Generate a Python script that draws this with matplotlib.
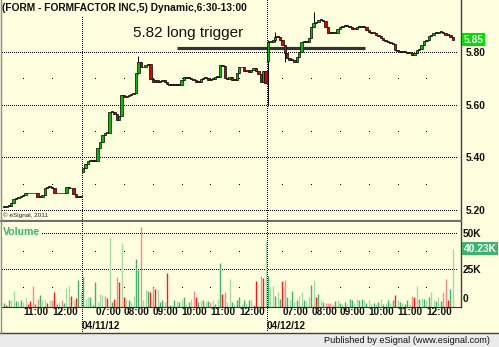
import matplotlib
matplotlib.use("Agg")
import matplotlib.pyplot as plt
import matplotlib.transforms as mtransforms
from matplotlib.lines import Line2D
from matplotlib.patches import Rectangle
import numpy as np

plt.rcParams['font.family'] = ['Liberation Sans', 'DejaVu Sans']

# ---------------- data ----------------
title = "(FORM - FORMFACTOR INC,5) Dynamic,6:30-13:00"

closes = [
    # 04/10/12 (partial)
    5.215, 5.22, 5.22, 5.23, 5.245, 5.25, 5.255, 5.258, 5.262, 5.267,
    5.267, 5.268, 5.267, 5.267, 5.255, 5.253, 5.26, 5.286, 5.29, 5.29,
    5.288, 5.267, 5.267, 5.267, 5.267, 5.268, 5.29, 5.288, 5.286, 5.263,
    5.255, 5.255, 5.253,
    # 04/11/12
    5.365, 5.38, 5.39, 5.395, 5.39, 5.39, 5.44, 5.463, 5.49, 5.496,
    5.497, 5.576, 5.575, 5.568, 5.546, 5.56, 5.64, 5.634, 5.635, 5.64,
    5.645, 5.648, 5.724, 5.765, 5.745, 5.745, 5.755, 5.76, 5.70, 5.69,
    5.697, 5.69, 5.694, 5.697, 5.69, 5.684, 5.678, 5.678, 5.678, 5.678,
    5.678, 5.697, 5.708, 5.705, 5.705, 5.70, 5.697, 5.69, 5.69, 5.70,
    5.705, 5.705, 5.697, 5.70, 5.70, 5.708, 5.708, 5.754, 5.75, 5.705,
    5.70, 5.708, 5.697, 5.697, 5.725, 5.748, 5.745, 5.73, 5.735, 5.727,
    5.735, 5.742, 5.73, 5.72, 5.69, 5.73, 5.685,
    # 04/12/12
    5.843, 5.842, 5.848, 5.862, 5.862, 5.848, 5.83, 5.799, 5.78, 5.773,
    5.773, 5.767, 5.786, 5.805, 5.843, 5.843, 5.843, 5.856, 5.90, 5.913,
    5.918, 5.925, 5.925, 5.922, 5.90, 5.875, 5.875, 5.875, 5.877, 5.89,
    5.90, 5.902, 5.902, 5.902, 5.90, 5.89, 5.892, 5.90, 5.90, 5.902,
    5.90, 5.887, 5.88, 5.877, 5.875, 5.868, 5.864, 5.855, 5.848, 5.845,
    5.842, 5.838, 5.835, 5.81, 5.808, 5.805, 5.805, 5.805, 5.801, 5.799,
    5.792, 5.799, 5.811, 5.814, 5.83, 5.845, 5.848, 5.864, 5.87, 5.875,
    5.875, 5.879, 5.879, 5.877, 5.868, 5.868, 5.862, 5.851,
]

# bars whose open gaps away from the previous close
gap_idx = [33, 109, 110]
gap_open = [5.35, 5.73, 5.77]

# bars with visible wicks
wick_idx = [49, 56, 110, 113, 117, 129]
wick_low = [5.585, 5.72, 5.60, 5.84, 5.765, 5.90]
wick_high = [5.64, 5.789, 5.85, 5.881, 5.83, 5.957]

volume_k = [
    2.3, 0.7, 4.6, 4.2, 11.1, 3.7, 3.7, 4.6, 3.0, 5.8,
    1.9, 3.7, 13.9, 1.9, 5.3, 8.3, 4.6, 4.6, 2.3, 4.6,
    4.2, 10.0, 1.9, 3.0, 4.6, 2.3, 13.0, 13.9, 7.6, 4.2,
    6.0, 18.5, 10.0,
    20.8, 4.2, 6.9, 6.5, 0.7, 16.9, 3.0, 8.8, 8.3, 7.6,
    6.0, 48.0, 3.0, 5.3, 20.4, 16.9, 44.0, 6.5, 5.3, 4.2,
    3.0, 7.6, 33.1, 25.0, 55.0, 4.6, 11.6, 11.1, 10.0, 13.4,
    12.3, 11.6, 3.0, 4.6, 3.0, 23.1, 0.7, 0.7, 4.2, 3.7,
    3.0, 4.6, 6.5, 1.4, 3.0, 5.3, 10.6, 6.9, 3.0, 4.2,
    4.6, 3.7, 3.7, 3.0, 4.2, 1.9, 5.3, 30.1, 8.8, 10.0,
    3.0, 19.2, 3.0, 1.9, 4.6, 6.5, 1.9, 4.2, 2.3, 4.6,
    5.3, 0.7, 17.6, 0.7, 21.5, 19.9, 45.8,
    21.5, 13.4, 13.9, 7.6, 10.0, 5.3, 17.6, 18.1, 6.5, 4.2,
    10.6, 3.0, 4.2, 7.6, 10.0, 4.6, 3.7, 6.9, 14.6, 18.5,
    6.5, 8.8, 4.2, 3.0, 2.3, 2.3, 2.3, 1.9, 3.7, 4.2,
    2.3, 1.4, 3.0, 1.9, 5.3, 4.6, 2.3, 5.3, 4.2, 5.3,
    4.6, 2.3, 4.2, 1.4, 2.3, 1.9, 3.0, 5.3, 1.4, 2.3,
    4.6, 2.3, 4.2, 8.3, 4.2, 3.0, 2.3, 1.9, 4.6, 1.4,
    7.6, 6.9, 13.9, 5.3, 6.0, 5.3, 4.2, 6.9, 10.0, 4.2,
    3.7, 6.5, 3.7, 9.3, 19.2, 4.6, 12.3, 40.23,
]

# volume bar shade codes: g dark green, l light green, r red, p light red
volume_shade = "".join([
    "grgllglgll", "rrpgpgllrl", "prglpgllrl", "rgl",
    "gllggglllp", "rlgrprlrlg", "llggpllgrp", "rlgglrglgl",
    "glglglprgl", "glgplglgrp", "llglgglglg", "lgrlprl",
    "gllglgrpgl", "glgllgllgl", "rglgppplgl", "glglggllgg",
    "lgllglglgl", "glgrlglggl", "prlglglgll", "glgpprgl",
])

last_price_label = "5.85"
last_volume_label = "40.23K"
trigger_price = 5.82
trigger_text = "5.82 long trigger"
trigger_span = [72, 150.4]

price_grid = [5.20, 5.40, 5.60, 5.80]
price_half = [5.30, 5.50, 5.70]
price_labels = ["5.20", "5.40", "5.60", "5.80"]
vol_grid = [25, 50]
vol_half = [12.5, 37.5]
vol_labels = ["50K", "25K", "0"]

hour_idx = [8, 20, 38, 50, 62, 74, 86, 98, 116, 128, 140, 152, 164, 176]
hour_labels = ["11:00", "12:00", "07:00", "08:00", "09:00", "10:00", "11:00",
               "12:00", "07:00", "08:00", "09:00", "10:00", "11:00", "12:00"]
day_sep = [32.5, 109.5]
date_labels = ["04/11/12", "04/12/12"]

# ---------------- figure ----------------
W, H = 499, 347
fig = plt.figure(figsize=(W / 100, H / 100), dpi=100)
BG = '#FFFFE0'
fig.patch.set_facecolor(BG)


def fx(px):
    return px / W


def fy(py):
    return 1 - py / H


ax = fig.add_axes([fx(1), fy(221), fx(461) - fx(1), fy(0) - fy(221)])
axv = fig.add_axes([fx(1), fy(306.5), fx(461) - fx(1), fy(222) - fy(306.5)])

XMIN, XMAX = -1.25, 190.42
PX_PER_BAR = 460 / (XMAX - XMIN)

n = len(closes)
x = np.arange(n)
c = np.array(closes)
o = np.r_[c[0], c[:-1]]
for i, v in zip(gap_idx, gap_open):
    o[i] = v
hi = np.maximum(o, c)
lo = np.minimum(o, c)
for i, l, h in zip(wick_idx, wick_low, wick_high):
    lo[i] = min(lo[i], l)
    hi[i] = max(hi[i], h)

for a in (ax, axv):
    a.set_facecolor(BG)
    a.set_xlim(XMIN, XMAX)
    a.set_xticks([])
    a.set_yticks([])
    a.spines['top'].set_visible(False)
    a.spines['left'].set_color('#909090')
    a.spines['right'].set_color('#404040')
    a.spines['bottom'].set_color('#303030')
    a.spines['right'].set_linewidth(1.0)

ax.set_ylim(5.1624, 6.0011)
ax.spines['bottom'].set_linewidth(1.6)
ax.spines['bottom'].set_color('#707070')
axv.set_ylim(0, 58.68)

# dotted grid drawn as single pixels every 2 px
dot_x = np.arange(-0.8, 188.5, 2 / PX_PER_BAR)
for lv in price_grid:
    ax.plot(dot_x, np.full(dot_x.size, lv), ',', color='k')
for lv in price_half:
    ax.plot(hour_idx, [lv] * len(hour_idx), ',', color='k')
for lv in vol_grid:
    axv.plot(dot_x, np.full(dot_x.size, lv), ',', color='k')
for lv in vol_half:
    axv.plot(hour_idx, [lv] * len(hour_idx), ',', color='k')

# day separators spanning both panels
btf = mtransforms.blended_transform_factory(ax.transData, fig.transFigure)
for k, s in enumerate(day_sep):
    top = 18 if k == 0 else 1
    ys = fy(np.arange(top, 333, 2))
    fig.add_artist(Line2D(np.full(ys.size, s), ys, transform=btf,
                          color='k', marker=',', linestyle='none'))

# trigger line
ax.hlines(trigger_price, trigger_span[0], trigger_span[1], colors='#333333', lw=2.3, zorder=3)
ax.text(53.75, 5.8596, trigger_text, fontsize=11, va='baseline', ha='left', color='#111111')

# candles
ax.vlines(x, lo, hi, colors='k', lw=0.7, zorder=4)
for i in range(n):
    if c[i] > o[i] + 1e-9:
        fc = '#00C000'
    elif c[i] < o[i] - 1e-9:
        fc = '#E00000'
    else:
        fc = 'k'
    b = min(o[i], c[i])
    h = max(abs(c[i] - o[i]), 0.0035)
    ax.add_patch(Rectangle((x[i] - 0.5, b), 1.0, h, facecolor=fc,
                           edgecolor='k', lw=0.5, zorder=5))

# volume
shade = {'g': '#3CB371', 'l': '#A3DCA3', 'r': '#FF1A1A', 'p': '#F58C8C'}
vcols = [shade[s] for s in volume_shade]
axv.vlines(x[:len(volume_k)], 0, volume_k, colors=vcols, lw=1.0)

# right labels
tp = mtransforms.blended_transform_factory(fig.transFigure, ax.transData)
for lv, lab in zip(price_grid, price_labels):
    ax.text(fx(466), lv, lab, transform=tp, fontsize=7.4, fontweight='bold',
            va='center', ha='left', color='#101010')
ax.text(fx(463.5), c[-1], last_price_label, transform=tp, fontsize=7.4, fontweight='bold',
        va='center', ha='left', color='white',
        bbox=dict(facecolor='#00E000', edgecolor='none', pad=1.2))

tv = mtransforms.blended_transform_factory(fig.transFigure, axv.transData)
axv.text(fx(463), 50, vol_labels[0], transform=tv, fontsize=7.4, fontweight='bold',
         va='center', ha='left', color='#101010')
axv.text(fx(463), 25, vol_labels[1], transform=tv, fontsize=7.4, fontweight='bold',
         va='center', ha='left', color='#101010')
fig.text(fx(463), fy(299), vol_labels[2], fontsize=7.4, fontweight='bold',
         va='center', ha='left', color='#101010')
axv.text(fx(463.5), volume_k[-1], last_volume_label, transform=tv, fontsize=7.4,
         fontweight='bold', va='center', ha='left', color='white',
         bbox=dict(facecolor='#3CB371', edgecolor='none', pad=1.0))

# title and annotations
fig.text(fx(2), fy(10.8), title, fontsize=7.4, fontweight='bold', va='baseline',
         ha='left', color='#101010')
fig.text(fx(3), fy(217), "\u00a9 eSignal, 2011", fontsize=4.6, va='baseline',
         ha='left', color='#202020')
fig.text(fx(3), fy(235), "Volume", fontsize=7.6, fontweight='bold', va='baseline',
         ha='left', color='#3CB371',
         bbox=dict(facecolor=BG, edgecolor='none', pad=0.6))

# time axis labels
for hx, lab in zip(hour_idx, hour_labels):
    fig.text(hx, fy(315), lab, transform=btf, fontsize=7.2, fontweight='bold',
             va='baseline', ha='left', color='#101010')
for s, lab in zip(day_sep, date_labels):
    fig.text(s, fy(329.3), lab, transform=btf, fontsize=7.2, fontweight='bold',
             va='baseline', ha='left', color='#101010')

# bottom band
fig.add_artist(Rectangle((0, 0), 1, fy(333.5), transform=fig.transFigure,
                         facecolor='#EBEBEB', edgecolor='none'))
fig.add_artist(Line2D([0, 1], [fy(333), fy(333)], transform=fig.transFigure,
                      color='#404040', lw=1.0))
fig.add_artist(Line2D([fx(0.5), fx(0.5)], [fy(0), fy(333)], transform=fig.transFigure,
                      color='#909090', lw=1.0))
fig.text(fx(490), fy(343), "Published by eSignal (www.esignal.com)", fontsize=6.6,
         va='baseline', ha='right', color='#101010')

fig.savefig("out.png", dpi=100, facecolor=BG)
